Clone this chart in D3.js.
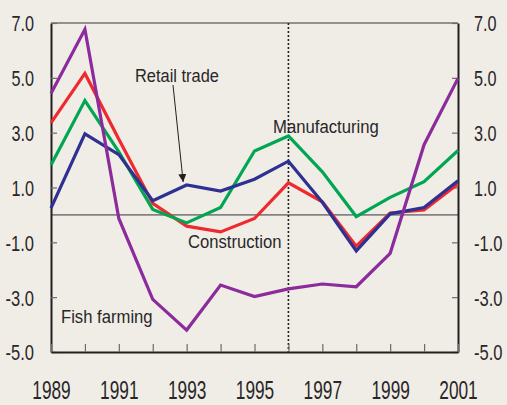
<!DOCTYPE html>
<html>
<head>
<meta charset="utf-8">
<script src="https://cdn.jsdelivr.net/npm/d3@7"></script>
<style>
  html, body { margin: 0; padding: 0; background: #f0ede7; }
  svg { display: block; }
  text { font-family: "Liberation Sans Narrow", "Liberation Sans", Arial, sans-serif; fill: #2a2627; }
</style>
</head>
<body>
<svg id="chart" width="507" height="405"></svg>
<script>
// values (per cent)
let years = [1989, 1990, 1991, 1992, 1993, 1994, 1995, 1996, 1997, 1998, 1999, 2000, 2001];
let yearLabels = [1989, 1991, 1993, 1995, 1997, 1999, 2001];
let yTicks = [7, 5, 3, 1, -1, -3, -5];
let fishFarming = [4.43, 6.77, -0.13, -3.08, -4.2, -2.56, -2.98, -2.7, -2.52, -2.62, -1.4, 2.56, 4.98];
let construction = [3.36, 5.16, 2.76, 0.42, -0.41, -0.62, -0.13, 1.17, 0.48, -1.14, 0.07, 0.18, 1.13];
let manufacturing = [1.82, 4.17, 2.3, 0.2, -0.29, 0.27, 2.33, 2.88, 1.57, -0.06, 0.64, 1.21, 2.35];
let retailTrade = [0.25, 2.96, 2.2, 0.52, 1.09, 0.87, 1.3, 1.96, 0.46, -1.31, 0.04, 0.27, 1.25];
let markerYear = 1996;

let svg = d3.select("#chart");
let plotL = 51, plotR = 458, plotT = 23, plotB = 352;

let x = d3.scaleLinear().domain([1989, 2001]).range([plotL, plotR]);
let y = d3.scaleLinear().domain([-5, 7]).range([plotB, plotT]);

// squeeze text to a target width, the original uses a narrow face
function squeeze(sel, widthOf) {
  sel.each(function(d, i) {
    let w = this.getComputedTextLength();
    let f = widthOf(d, i) / w;
    let ax = +d3.select(this).attr("x") || 0;
    d3.select(this).attr("transform", `translate(${ax},0) scale(${f},1) translate(${-ax},0)`);
  });
}

// top frame line
svg.append("line")
  .attr("x1", plotL).attr("x2", plotR).attr("y1", plotT).attr("y2", plotT)
  .attr("stroke", "#3a3536").attr("stroke-width", 1.2);

// zero line
svg.append("line")
  .attr("x1", plotL).attr("x2", plotR).attr("y1", y(0)).attr("y2", y(0))
  .attr("stroke", "#858282").attr("stroke-width", 1.6);

// dotted marker line
svg.append("line")
  .attr("x1", x(markerYear)).attr("x2", x(markerYear)).attr("y1", plotT).attr("y2", plotB)
  .attr("stroke", "#231f20").attr("stroke-width", 1.6).attr("stroke-dasharray", "2,2");

// axes
let fmt = d => d.toFixed(1);
let yl = svg.append("g").attr("transform", `translate(${plotL},0)`)
  .call(d3.axisLeft(y).tickValues(yTicks).tickFormat(fmt).tickSizeInner(-6).tickSizeOuter(0).tickPadding(17));
let yr = svg.append("g").attr("transform", `translate(${plotR},0)`)
  .call(d3.axisRight(y).tickValues(yTicks).tickFormat(fmt).tickSizeInner(-6).tickSizeOuter(0).tickPadding(16));
let xb = svg.append("g").attr("transform", `translate(0,${plotB})`)
  .call(d3.axisBottom(x).tickValues(years).tickFormat(d => yearLabels.includes(d) ? d : "")
    .tickSizeInner(-8).tickSizeOuter(0).tickPadding(0));

[yl, yr, xb].forEach(g => {
  g.select(".domain").attr("stroke", "#231f20").attr("stroke-width", 2);
  g.selectAll(".tick line").attr("stroke", "#6d6a6a").attr("stroke-width", 1.2);
  g.selectAll("text").attr("fill", "#2a2627").attr("font-family", null);
});
[yl, yr].forEach(g => {
  g.selectAll("text").attr("font-size", 22).attr("dy", "0.36em");
  squeeze(g.selectAll("text"), d => d < 0 ? 28.5 : 22.6);
});
xb.selectAll("text").attr("font-size", 25).attr("y", 47).attr("dy", 0);
squeeze(xb.selectAll("text").filter(d => yearLabels.includes(d)), () => 38.5);

// series
let series = [
  { name: "Construction", values: construction, color: "#ee2a2e" },
  { name: "Manufacturing", values: manufacturing, color: "#00a651" },
  { name: "Retail trade", values: retailTrade, color: "#2e3192" },
  { name: "Fish farming", values: fishFarming, color: "#8c2b9c" }
];
let line = d3.line().x((d, i) => x(years[i])).y(d => y(d));
svg.append("g").selectAll("path").data(series).join("path")
  .attr("d", d => line(d.values))
  .attr("fill", "none")
  .attr("stroke", d => d.color)
  .attr("stroke-width", 3.2)
  .attr("stroke-linejoin", "miter");

// labels
let labels = [
  { text: "Retail trade", x: 135, y: 82, w: 84 },
  { text: "Manufacturing", x: 273, y: 133, w: 106 },
  { text: "Construction", x: 188, y: 248, w: 93.5 },
  { text: "Fish farming", x: 61, y: 323, w: 91.7 }
];
let lab = svg.append("g").selectAll("text").data(labels).join("text")
  .attr("x", d => d.x).attr("y", d => d.y)
  .attr("font-size", 18.5)
  .text(d => d.text);
squeeze(lab, d => d.w);

// arrow to the retail trade line
svg.append("defs").append("marker")
  .attr("id", "head").attr("viewBox", "0 0 10 10")
  .attr("refX", 10).attr("refY", 5)
  .attr("markerWidth", 8).attr("markerHeight", 8)
  .attr("markerUnits", "userSpaceOnUse")
  .attr("orient", "auto")
  .append("path").attr("d", "M0,0L10,5L0,10Z").attr("fill", "#231f20");
svg.append("line")
  .attr("x1", 173).attr("y1", 85)
  .attr("x2", x(1993) - 3.5).attr("y2", y(retailTrade[4]) - 3)
  .attr("stroke", "#231f20").attr("stroke-width", 1)
  .attr("marker-end", "url(#head)");
</script>
</body>
</html>
